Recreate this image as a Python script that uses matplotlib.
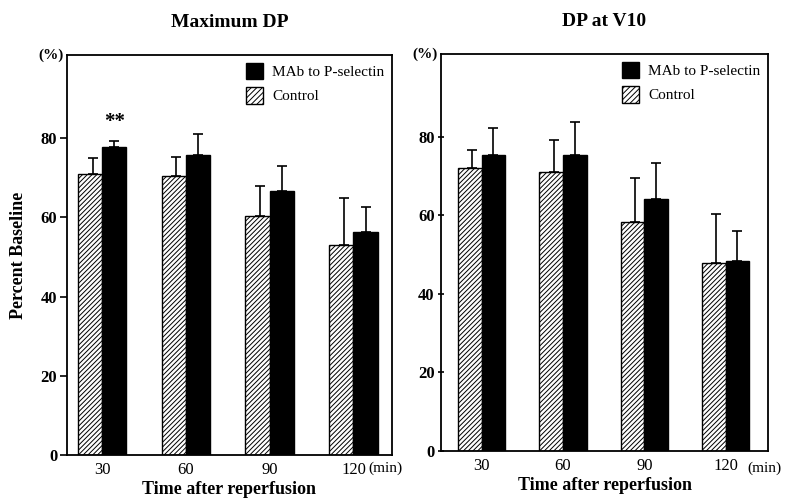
import matplotlib
matplotlib.use("Agg")
import matplotlib.pyplot as plt
import matplotlib.patches as mpatches
import numpy as np

plt.rcParams['font.family'] = ['Liberation Serif', 'DejaVu Serif']
plt.rcParams['hatch.linewidth'] = 0.7

times = ["30", "60", "90", "120"]
series = ["Control", "MAb to P-selectin"]

# Maximum DP
maxdp_control = [70.9, 70.4, 60.3, 52.9]
maxdp_control_err = [4.0, 4.8, 7.5, 11.9]
maxdp_mab = [77.7, 75.7, 66.6, 56.2]
maxdp_mab_err = [1.5, 5.3, 6.3, 6.3]

# DP at V10
v10_control = [71.9, 70.9, 58.2, 47.8]
v10_control_err = [4.6, 8.3, 11.2, 12.5]
v10_mab = [75.4, 75.4, 64.1, 48.4]
v10_mab_err = [6.9, 8.4, 9.1, 7.6]

yticks = [0, 20, 40, 60, 80]

W, H = 785, 501
fig = plt.figure(figsize=(W / 100, H / 100), dpi=100)

def px_axes(l, t, r, b):
    return fig.add_axes([l / W, 1 - b / H, (r - l) / W, (b - t) / H])

panels = [
    dict(rect=(67, 55, 392, 455), title="Maximum DP", xlim=(-0.42, 3.46), minx=368,
         c=maxdp_control, ce=maxdp_control_err, m=maxdp_mab, me=maxdp_mab_err, stars=True),
    dict(rect=(441, 54, 768, 451), title="DP at V10", xlim=(-0.50, 3.52), minx=747,
         c=v10_control, ce=v10_control_err, m=v10_mab, me=v10_mab_err, stars=False),
]

bw = 0.29
for i, p in enumerate(panels):
    ax = px_axes(*p["rect"])
    x = np.arange(len(times))
    ax.bar(x - bw / 2, p["c"], bw, color="white", edgecolor="black", hatch="///////",
           linewidth=1.0, zorder=2)
    ax.bar(x + bw / 2, p["m"], bw, color="black", edgecolor="black", linewidth=1.0, zorder=2)
    ax.errorbar(x - bw / 2 + 0.03, p["c"], yerr=[np.zeros(4), p["ce"]], fmt="none",
                ecolor="black", elinewidth=1.2, capsize=3.5, capthick=1.2, zorder=1)
    ax.errorbar(x + bw / 2, p["m"], yerr=[np.zeros(4), p["me"]], fmt="none",
                ecolor="black", elinewidth=1.2, capsize=3.5, capthick=1.2, zorder=1)
    ax.set_xlim(*p["xlim"])
    ax.set_ylim(0, 101)
    ax.set_yticks(yticks)
    ax.set_yticklabels([str(v) for v in yticks], fontsize=12, fontweight="bold")
    ax.set_xticks(x)
    ax.set_xticklabels(times, fontsize=12)
    ax.tick_params(axis="x", length=0, pad=5)
    ax.tick_params(axis="y", direction="inout" if i == 1 else "out", length=5, width=1.2, pad=2)
    for s in ax.spines.values():
        s.set_linewidth(1.3)
    ax.set_title(p["title"], fontsize=14, fontweight="bold", pad=20)
    ax.set_xlabel("Time after reperfusion", fontsize=13, fontweight="bold", labelpad=2)
    ax.text(-0.01, 1.0, "(%)", transform=ax.transAxes, ha="right", va="center",
            fontsize=11, fontweight="bold")
    fig.text(p["minx"] / W, 1 - 462 / H, "(min)", ha="left", va="top", fontsize=11)
    if p["stars"]:
        ax.text(0 + bw / 2, 84, "**", ha="center", va="center", fontsize=15, fontweight="bold")
    handles = [mpatches.Patch(facecolor="black", edgecolor="black", label=series[1]),
               mpatches.Patch(facecolor="white", edgecolor="black", hatch="//////", label=series[0])]
    ax.legend(handles=handles, loc="upper right", frameon=False, fontsize=11,
              handlelength=1.1, handleheight=1.3, handletextpad=0.6, labelspacing=0.5,
              borderaxespad=0.1)
    if i == 0:
        ax.set_ylabel("Percent Baseline", fontsize=13, fontweight="bold", labelpad=10)

fig.savefig("out.png", dpi=100)
